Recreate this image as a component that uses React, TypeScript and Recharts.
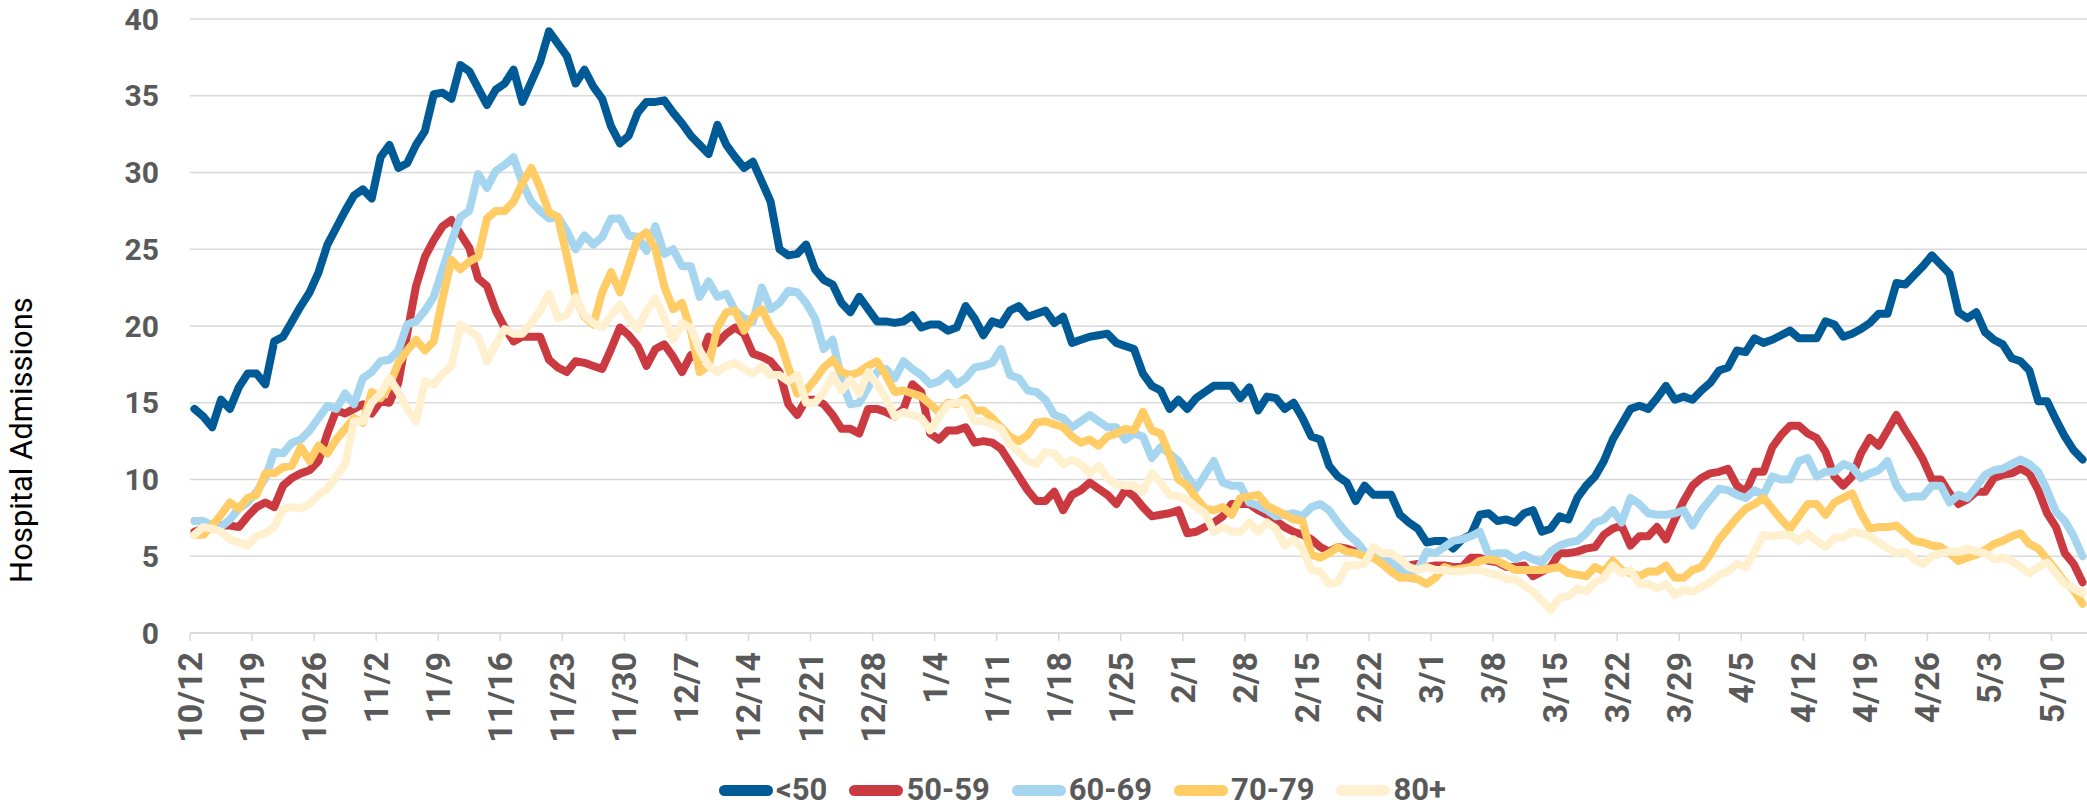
import React from 'react';
import { LineChart, Line, XAxis, YAxis, CartesianGrid, Legend } from 'recharts';

const W = 2087;
const H = 804;
const FONT = "Roboto, 'Liberation Sans', Arial, sans-serif";

// Weekly tick labels (each tick marks the start of that day's category)
const tickLabels = ['10/12', '10/19', '10/26', '11/2', '11/9', '11/16', '11/23', '11/30', '12/7', '12/14', '12/21', '12/28', '1/4', '1/11', '1/18', '1/25', '2/1', '2/8', '2/15', '2/22', '3/1', '3/8', '3/15', '3/22', '3/29', '4/5', '4/12', '4/19', '4/26', '5/3', '5/10'];
const yTicks = [0, 5, 10, 15, 20, 25, 30, 35, 40];

const seriesNames = ['<50', '50-59', '60-69', '70-79', '80+'];
const seriesColors = ['#005A96', '#CC3A41', '#A6D6EF', '#FFCC66', '#FFF0D0'];

// Daily values, 10/12 .. 5/13
const under50 = [14.6, 14.1, 13.4, 15.2, 14.6, 16.0, 16.9, 16.9, 16.2, 19.0, 19.3, 20.3, 21.3, 22.2, 23.5, 25.3, 26.4, 27.5, 28.5, 28.9, 28.3, 31.0, 31.8, 30.3, 30.6, 31.8, 32.7, 35.1, 35.2, 34.8, 37.0,
  36.6, 35.5, 34.4, 35.4, 35.8, 36.7, 34.6, 35.9, 37.2, 39.2, 38.4, 37.6, 35.8, 36.7, 35.6, 34.8, 33.0, 31.9, 32.4, 33.9, 34.6, 34.6, 34.7, 33.9, 33.2, 32.4, 31.8, 31.2, 33.1,
  31.8, 31.0, 30.3, 30.7, 29.4, 28.1, 25.0, 24.6, 24.7, 25.3, 23.7, 23.0, 22.7, 21.5, 20.9, 21.9, 21.1, 20.3, 20.3, 20.2, 20.3, 20.7, 19.9, 20.1, 20.1, 19.7, 19.9, 21.3, 20.5, 19.4, 20.3, 20.1,
  21.0, 21.3, 20.6, 20.8, 21.0, 20.2, 20.6, 18.9, 19.1, 19.3, 19.4, 19.5, 18.9, 18.7, 18.5, 16.9, 16.1, 15.8, 14.6, 15.2, 14.6, 15.3, 15.7, 16.1, 16.1, 16.1, 15.3, 16.0, 14.5, 15.4,
  15.3, 14.6, 15.0, 14.0, 12.8, 12.6, 10.9, 10.2, 9.8, 8.6, 9.6, 9.0, 9.0, 9.0, 7.7, 7.2, 6.8, 5.9, 6.0, 6.0, 5.5, 6.1, 6.4, 7.7, 7.8, 7.3, 7.4, 7.2, 7.8, 8.0, 6.6,
  6.8, 7.6, 7.4, 8.8, 9.6, 10.2, 11.2, 12.6, 13.6, 14.6, 14.8, 14.6, 15.3, 16.1, 15.2, 15.4, 15.2,
  15.8, 16.3, 17.1, 17.3, 18.4, 18.3, 19.2, 18.9, 19.1, 19.4, 19.7, 19.2, 19.2, 19.2, 20.3, 20.1, 19.3, 19.5, 19.8, 20.2, 20.8, 20.8, 22.8, 22.7, 23.3, 23.9, 24.6, 24.0, 23.4, 20.9, 20.5, 20.9, 19.6, 19.1, 18.8, 17.9, 17.7, 17.1, 15.1, 15.1, 13.9, 12.8, 11.9, 11.3];

const age50to59 = [6.6, 6.8, 6.9, 7.0, 7.0, 6.9, 7.6, 8.2, 8.5, 8.2, 9.6, 10.1, 10.4, 10.6, 11.2, 13.0, 14.5, 14.3, 14.6, 14.9, 14.3, 15.1, 15.0, 16.3, 19.5, 22.6, 24.5, 25.6, 26.5, 26.9, 26.0,
  25.1, 23.1, 22.6, 21.0, 19.9, 19.0, 19.3, 19.3, 19.3, 17.8, 17.3, 17.0, 17.7, 17.6, 17.4, 17.2, 18.5, 19.9, 19.4, 18.7, 17.4, 18.5, 18.8, 18.0, 17.0, 18.1, 17.8, 19.3, 18.9,
  19.5, 19.9, 19.5, 18.2, 18.0, 17.7, 17.0, 14.9, 14.2, 15.2, 15.2, 14.9, 14.2, 13.3, 13.3, 13.0, 14.6, 14.6, 14.4, 14.1, 14.6, 16.2, 15.7, 13.0, 12.6, 13.2, 13.2, 13.4, 12.4, 12.5, 12.4, 12.0,
  11.1, 10.2, 9.3, 8.6, 8.6, 9.2, 8.0, 9.0, 9.3, 9.8, 9.4, 9.0, 8.4, 9.3, 8.9, 8.2, 7.6, 7.7, 7.8, 8.0, 6.5, 6.6, 6.9, 7.2, 7.6, 8.4, 8.4, 8.4, 8.0, 7.7,
  7.3, 6.9, 6.6, 6.4, 6.1, 5.6, 5.3, 5.6, 5.5, 5.3, 5.2, 5.1, 4.9, 4.7, 4.4, 4.4, 4.5, 4.3, 4.4, 4.4, 4.3, 4.3, 4.9, 4.9, 4.7, 4.6, 4.3, 4.3, 4.4, 3.7,
  4.0, 4.3, 5.2, 5.2, 5.3, 5.5, 5.6, 6.4, 6.8, 7.0, 5.7, 6.3, 6.3, 6.9, 6.1, 7.4, 8.6, 9.6,
  10.1, 10.4, 10.5, 10.7, 9.6, 9.2, 10.5, 10.5, 12.1, 12.9, 13.5, 13.5, 13.0, 12.7, 11.8, 10.2, 9.6, 10.2, 11.7, 12.7, 12.2, 13.2, 14.2, 13.2, 12.3, 11.3, 10.0, 10.0, 9.1, 8.4, 8.7, 9.2, 9.2, 10.1, 10.3, 10.4, 10.7, 10.4, 9.3, 7.8, 6.9, 5.2, 4.5, 3.3];

const age60to69 = [7.3, 7.3, 7.0, 6.9, 7.4, 8.1, 8.5, 9.2, 10.1, 11.8, 11.7, 12.4, 12.6, 13.2, 14.0, 14.8, 14.6, 15.6, 14.9, 16.6, 17.0, 17.7, 17.8, 18.4, 20.1, 20.3, 21.0, 21.9, 23.7, 25.5, 27.1,
  27.5, 29.9, 29.0, 30.1, 30.5, 31.0, 29.3, 28.1, 27.5, 27.0, 27.1, 26.2, 25.0, 25.9, 25.3, 25.8, 27.0, 27.0, 25.9, 25.8, 24.9, 26.5, 24.7, 25.0, 23.9, 23.9, 21.9, 22.9, 21.9, 22.1,
  21.0, 20.5, 20.3, 22.5, 21.1, 21.5, 22.3, 22.2, 21.5, 20.5, 18.5, 19.1, 16.5, 14.9, 15.0, 16.0, 17.0, 17.2, 16.6, 17.7, 17.2, 16.8, 16.2, 16.4, 16.9, 16.2, 16.6, 17.3, 17.4, 17.6, 18.5,
  16.8, 16.6, 15.8, 15.7, 15.2, 14.2, 14.0, 13.4, 13.8, 14.2, 13.8, 13.4, 13.4, 12.6, 13.0, 12.8, 11.4, 12.1, 11.7, 11.2, 10.2, 9.4, 10.3, 11.2, 9.8, 9.6, 9.6, 8.5, 8.3, 8.0,
  7.6, 7.7, 7.8, 7.6, 8.2, 8.4, 8.0, 7.2, 6.5, 6.0, 5.3, 5.2, 5.0, 4.7, 4.1, 4.0, 4.1, 5.3, 5.2, 5.6, 6.0, 6.1, 6.3, 6.6, 5.1, 5.2, 5.2, 4.8, 5.1, 4.8,
  4.6, 5.3, 5.7, 5.9, 6.0, 6.5, 7.2, 7.4, 8.0, 7.2, 8.8, 8.4, 7.8, 7.7, 7.7, 7.8, 8.0, 7.0,
  8.0, 8.7, 9.4, 9.3, 9.0, 8.8, 9.3, 9.0, 10.2, 10.0, 10.0, 11.2, 11.4, 10.2, 10.5, 10.5, 11.0, 10.8, 10.1, 10.4, 10.6, 11.2, 9.6, 8.8, 8.9, 8.9, 9.6, 9.6, 8.5, 9.0, 8.8, 9.5, 10.3, 10.6, 10.7, 11.0, 11.3, 11.0, 10.5, 9.3, 7.9, 7.3, 6.3, 5.0];

const age70to79 = [6.4, 6.4, 7.0, 7.7, 8.5, 8.1, 8.8, 9.0, 10.4, 10.4, 10.8, 10.9, 12.1, 11.2, 12.2, 11.7, 12.6, 13.3, 14.0, 13.7, 15.7, 15.3, 16.1, 17.6, 18.4, 19.1, 18.4, 19.0, 21.8, 24.3, 23.7,
  24.2, 24.5, 27.0, 27.5, 27.5, 28.1, 29.3, 30.3, 29.0, 27.4, 27.1, 24.6, 21.9, 20.6, 20.1, 22.2, 23.5, 22.2, 23.9, 25.7, 26.1, 25.0, 22.6, 21.1, 21.5, 19.7, 17.0, 17.4, 19.9, 20.9,
  21.0, 19.7, 20.6, 21.1, 19.9, 19.1, 17.3, 15.6, 15.8, 16.5, 17.3, 17.8, 17.0, 16.8, 17.0, 17.4, 17.7, 16.8, 15.7, 15.8, 15.6, 15.4, 14.9, 14.4, 15.0, 14.9, 15.3, 14.5, 14.5, 14.0, 13.4,
  12.8, 12.5, 12.9, 13.7, 13.8, 13.6, 13.4, 12.8, 12.4, 12.6, 12.2, 12.8, 13.0, 13.3, 13.2, 14.4, 13.2, 13.0, 11.6, 10.0, 9.6, 8.8, 8.1, 8.0, 8.2, 7.7, 8.8, 8.9, 9.0, 8.3,
  8.0, 7.7, 7.4, 7.3, 5.1, 4.9, 5.2, 5.6, 5.3, 5.2, 5.0, 4.9, 4.5, 4.0, 3.6, 3.6, 3.5, 3.2, 3.6, 4.3, 4.1, 4.2, 4.3, 4.7, 4.8, 4.7, 4.4, 4.1, 4.1, 4.1,
  4.1, 4.2, 4.3, 3.9, 3.8, 3.7, 4.3, 4.0, 4.7, 4.1, 3.9, 3.7, 4.0, 4.0, 4.4, 3.6, 3.6, 4.1,
  4.3, 5.1, 6.1, 6.8, 7.5, 8.1, 8.4, 8.8, 8.1, 7.4, 6.8, 7.6, 8.4, 8.4, 7.7, 8.5, 8.8, 9.1, 7.8, 6.8, 6.9, 6.9, 7.0, 6.5, 6.0, 5.9, 5.7, 5.6, 5.2, 4.7, 4.9, 5.1, 5.4, 5.8, 6.0, 6.3, 6.5, 5.8, 5.5, 4.8, 4.1, 3.3, 2.8, 1.9];

const age80plus = [6.4, 6.9, 6.8, 6.6, 6.1, 5.9, 5.7, 6.3, 6.5, 6.9, 8.1, 8.2, 8.1, 8.4, 9.0, 9.4, 10.2, 11.0, 13.8, 13.8, 15.0, 15.6, 16.6, 15.7, 14.6, 13.8, 16.4, 16.2, 16.9, 17.4, 20.1,
  19.7, 19.3, 17.7, 18.8, 19.8, 19.5, 19.5, 20.2, 21.0, 22.1, 20.5, 20.7, 21.9, 20.7, 20.2, 19.9, 20.7, 21.4, 20.5, 19.8, 21.0, 21.8, 20.5, 19.1, 20.2, 19.9, 18.4, 17.4, 17.0, 17.4,
  17.6, 17.2, 16.9, 17.4, 16.8, 16.8, 16.4, 16.8, 15.0, 15.0, 15.7, 16.8, 15.8, 16.5, 15.6, 17.0, 16.2, 15.3, 14.1, 14.4, 14.2, 14.0, 13.2, 14.1, 14.9, 15.0, 15.0, 13.8, 13.8, 13.6, 13.3,
  12.3, 11.8, 11.2, 11.0, 11.8, 11.7, 11.0, 11.3, 11.0, 10.4, 10.9, 10.1, 9.7, 9.6, 9.6, 9.2, 10.4, 9.8, 9.0, 8.9, 8.7, 8.2, 7.8, 6.6, 6.9, 6.6, 6.6, 7.2, 6.6, 7.2,
  6.8, 5.7, 6.1, 5.5, 4.1, 4.0, 3.2, 3.3, 4.4, 4.4, 4.5, 5.6, 5.2, 5.2, 4.8, 4.3, 4.1, 4.3, 4.1, 4.1, 4.0, 4.0, 4.1, 4.1, 3.9, 3.8, 3.5, 3.5, 3.1, 2.7,
  2.1, 1.5, 2.3, 2.4, 2.9, 2.7, 3.3, 3.6, 4.4, 3.9, 4.1, 3.2, 3.2, 2.9, 3.2, 2.5, 2.8, 2.7,
  3.0, 3.3, 3.8, 4.0, 4.5, 4.3, 5.3, 6.4, 6.3, 6.4, 6.4, 6.0, 6.5, 6.0, 5.6, 6.2, 6.2, 6.6, 6.5, 6.3, 5.9, 5.5, 5.2, 5.3, 4.8, 4.5, 5.0, 5.2, 5.3, 5.3, 5.5, 5.3, 5.2, 4.8, 4.9, 4.7, 4.3, 3.9, 4.3, 4.6, 3.9, 3.2, 2.9, 2.6];

const seriesValues = [under50, age50to59, age60to69, age70to79, age80plus];

// Each day is a category; its point sits at the middle of the category (Excel "between tick marks")
const data = under50.map((_, i) => {
  const row: Record<string, number> = { day: i + 0.5 };
  seriesValues.forEach((arr, k) => {
    row['s' + k] = arr[i];
  });
  return row;
});
const xTicks = tickLabels.map((_, k) => k * 7);

const XTick = (props: any) => {
  const { x, y, payload } = props;
  const label = tickLabels[Math.round(payload.value / 7)];
  return (
    <text
      transform={`translate(${x},${y}) rotate(-90)`}
      textAnchor="end"
      dominantBaseline="central"
      fill="#595959"
      fontSize={34}
      fontWeight={700}
      fontFamily={FONT}
    >
      {label}
    </text>
  );
};

const YTick = (props: any) => {
  const { x, y, payload } = props;
  return (
    <text x={x} y={y} textAnchor="end" dominantBaseline="central" fill="#595959" fontSize={30} fontWeight={700} fontFamily={FONT}>
      {payload.value}
    </text>
  );
};

const YLabel = () => (
  <text
    transform="translate(21,440) rotate(-90)"
    textAnchor="middle"
    dominantBaseline="central"
    fill="#000000"
    fontSize={31}
    fontFamily={FONT}
  >
    Hospital Admissions
  </text>
);

const renderLegend = () => (
  <div style={{ display: 'flex', alignItems: 'center', height: 36, fontFamily: FONT }}>
    {seriesNames.map((n, k) => (
      <div key={n} style={{ display: 'flex', alignItems: 'center', marginRight: 22 }}>
        <div style={{ width: 54, height: 11, borderRadius: 6, background: seriesColors[k] }} />
        <span style={{ marginLeft: 3, fontSize: 31, fontWeight: 700, color: '#595959', lineHeight: '36px' }}>{n}</span>
      </div>
    ))}
  </div>
);

export default function App() {
  return (
    <div style={{ position: 'absolute', left: 0, top: 0, width: W, height: H, background: '#ffffff' }}>
      <LineChart width={W} height={H} data={data} margin={{ top: 19, right: 0, bottom: 0, left: 0 }}>
        <CartesianGrid vertical={false} stroke="#d9d9d9" strokeWidth={1.5} />
        <XAxis
          type="number"
          dataKey="day"
          domain={[0, under50.length]}
          ticks={xTicks}
          interval={0}
          height={171}
          tick={<XTick />}
          tickSize={8}
          tickMargin={11}
          axisLine={{ stroke: '#d9d9d9', strokeWidth: 1.5 }}
          tickLine={{ stroke: '#d9d9d9', strokeWidth: 1.5 }}
          allowDecimals={false}
        />
        <YAxis
          type="number"
          domain={[0, 40]}
          ticks={yTicks}
          interval={0}
          width={190}
          axisLine={false}
          tickLine={false}
          tickSize={0}
          tickMargin={31}
          tick={<YTick />}
          label={<YLabel />}
        />
        <Legend
          layout="horizontal"
          verticalAlign="middle"
          align="center"
          content={renderLegend}
          wrapperStyle={{ left: 719, top: 772, width: 900, height: 36 }}
        />
        {seriesNames.map((n, k) => (
          <Line
            key={n}
            name={n}
            type="linear"
            dataKey={'s' + k}
            stroke={seriesColors[k]}
            strokeWidth={8}
            strokeLinecap="round"
            strokeLinejoin="round"
            dot={false}
            activeDot={false}
            isAnimationActive={false}
          />
        ))}
      </LineChart>
    </div>
  );
}
